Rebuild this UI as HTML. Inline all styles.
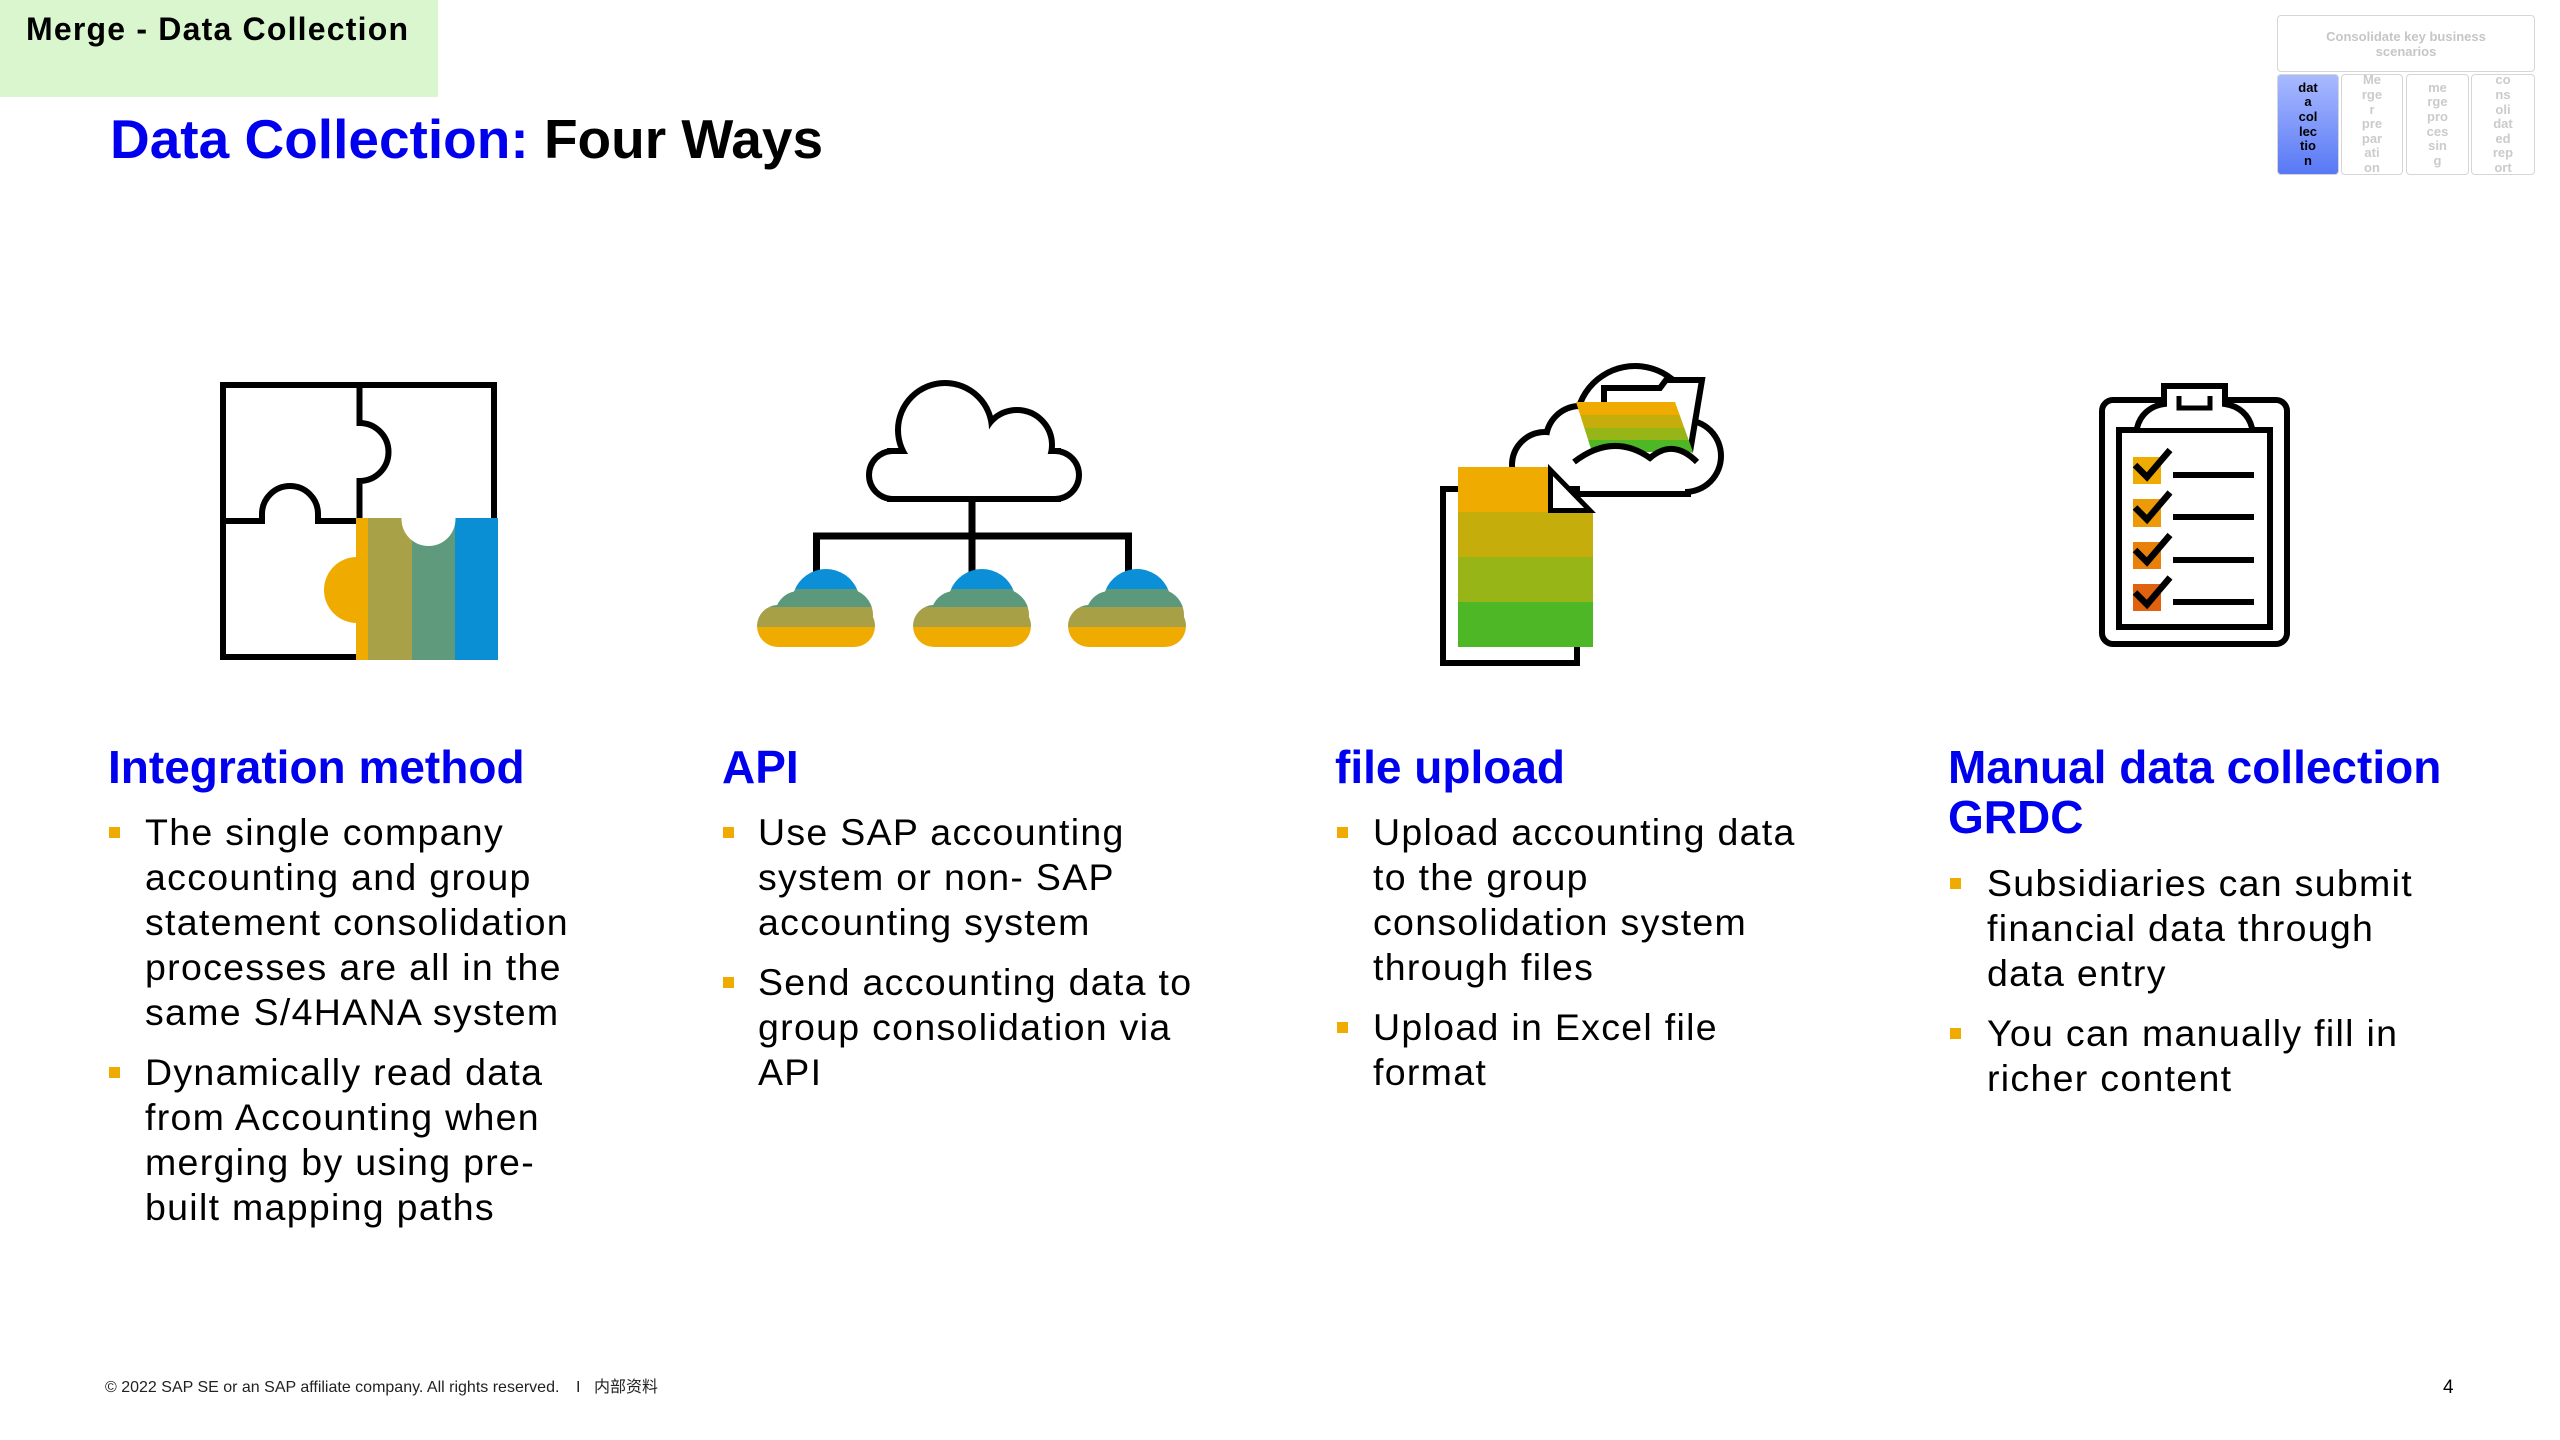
<!DOCTYPE html>
<html>
<head>
<meta charset="utf-8">
<style>
  html,body{margin:0;padding:0;}
  body{width:2560px;height:1440px;position:relative;background:#fff;overflow:hidden;font-family:"Liberation Sans","Noto Sans CJK SC",sans-serif;}
  .abs{position:absolute;white-space:nowrap;}
  .h{font-size:46px;font-weight:bold;color:#0000ee;line-height:50px;}
  .p{font-size:37.5px;line-height:45px;color:#000;letter-spacing:1.3px;}
  .b{position:absolute;width:11px;height:11px;background:#f0ab00;}
  .cell{position:absolute;top:74px;height:101px;border:1.5px solid #d6d6d6;border-radius:4px;box-sizing:border-box;display:flex;align-items:center;justify-content:center;text-align:center;font-size:13px;line-height:14.6px;font-weight:bold;color:#cbcbcb;}
</style>
</head>
<body>

<!-- top-left tag -->
<div class="abs" style="left:0;top:0;width:438px;height:97px;background:#d9f6cf;"></div>
<div class="abs" style="left:26px;top:11px;font-size:32px;line-height:36px;font-weight:bold;color:#000;letter-spacing:1.2px;">Merge - Data Collection</div>

<!-- title -->
<div class="abs" style="left:110px;top:109px;font-size:55px;line-height:60px;font-weight:bold;"><span style="color:#0000ee;">Data Collection:</span> <span style="color:#000;">Four Ways</span></div>

<!-- top right nav -->
<div class="abs" style="left:2277px;top:15px;width:258px;height:57px;border:1.5px solid #d6d6d6;border-radius:4px;box-sizing:border-box;background:#fff;display:flex;align-items:center;justify-content:center;text-align:center;font-size:13px;line-height:15px;font-weight:bold;color:#c6c6c6;white-space:normal;">Consolidate key business<br>scenarios</div>
<div class="cell" style="left:2277px;width:62px;background:linear-gradient(#a9baff,#5878f5);color:#000;">dat<br>a<br>col<br>lec<br>tio<br>n</div>
<div class="cell" style="left:2341px;width:62px;background:#fff;">Me<br>rge<br>r<br>pre<br>par<br>ati<br>on</div>
<div class="cell" style="left:2406px;width:63px;background:#fff;">me<br>rge<br>pro<br>ces<br>sin<br>g</div>
<div class="cell" style="left:2471px;width:64px;background:#fff;">co<br>ns<br>oli<br>dat<br>ed<br>rep<br>ort</div>

<!-- icons -->
<svg class="abs" style="left:0;top:0;" width="2560" height="1440" viewBox="0 0 2560 1440">
  <defs>
    <clipPath id="sc">
      <rect x="0" y="36" width="118" height="42" rx="21"/>
      <circle cx="42" cy="46" r="24"/>
      <circle cx="90" cy="46" r="26"/>
      <circle cx="69" cy="34" r="34"/>
    </clipPath>
    <clipPath id="doc"><polygon points="1458,467 1548,467 1593,512 1593,647 1458,647"/></clipPath>
    <clipPath id="paper"><polygon points="1576,402 1675,402 1693,452 1592,452"/></clipPath>
  </defs>

  <!-- Puzzle -->
  <g fill="none" stroke="#000" stroke-width="6">
    <rect x="223" y="385" width="271" height="272"/>
    <path d="M359.5,385 V423 A29,29 0 0 1 359.5,481 V521"/>
    <path d="M223,521 H262 V514 A28,28 0 0 1 318,514 V521 H362"/>
  </g>
  <path d="M357,557 A33,33 0 0 0 357,623 Z" fill="#f0ab00"/>
  <rect x="356" y="518" width="12" height="142" fill="#f0ab00"/>
  <rect x="368" y="518" width="44" height="142" fill="#a9a147"/>
  <rect x="412" y="518" width="43" height="142" fill="#5f9a7d"/>
  <rect x="455" y="518" width="43" height="142" fill="#0a8fd4"/>
  <circle cx="428.5" cy="519" r="27" fill="#fff"/>

  <!-- API big cloud -->
  <g fill="#000" stroke="#000" stroke-width="12">
    <circle cx="893" cy="475" r="21"/>
    <circle cx="1055" cy="475" r="21"/>
    <rect x="893" y="454" width="162" height="42"/>
    <circle cx="945" cy="430" r="44"/>
    <circle cx="1017" cy="445" r="32"/>
  </g>
  <g fill="#fff">
    <circle cx="893" cy="475" r="21"/>
    <circle cx="1055" cy="475" r="21"/>
    <rect x="893" y="454" width="162" height="42"/>
    <circle cx="945" cy="430" r="44"/>
    <circle cx="1017" cy="445" r="32"/>
    <polygon points="893,475 945,430 1017,445 1055,475 1055,490 893,490"/>
  </g>
  <g fill="#000">
    <rect x="968.5" y="500" width="7" height="40"/>
    <rect x="813" y="532.5" width="319" height="7"/>
    <rect x="813" y="533" width="7" height="44"/>
    <rect x="968.5" y="533" width="7" height="44"/>
    <rect x="1125" y="533" width="7" height="44"/>
  </g>
  <g transform="translate(757,569)" clip-path="url(#sc)">
    <rect x="0" y="0" width="118" height="20" fill="#0b8fd6"/>
    <rect x="0" y="20" width="118" height="18" fill="#5c997c"/>
    <rect x="0" y="38" width="118" height="20" fill="#a7a047"/>
    <rect x="0" y="58" width="118" height="20" fill="#f0ab00"/>
  </g>
  <g transform="translate(913,569)" clip-path="url(#sc)">
    <rect x="0" y="0" width="118" height="20" fill="#0b8fd6"/>
    <rect x="0" y="20" width="118" height="18" fill="#5c997c"/>
    <rect x="0" y="38" width="118" height="20" fill="#a7a047"/>
    <rect x="0" y="58" width="118" height="20" fill="#f0ab00"/>
  </g>
  <g transform="translate(1068,569)" clip-path="url(#sc)">
    <rect x="0" y="0" width="118" height="20" fill="#0b8fd6"/>
    <rect x="0" y="20" width="118" height="18" fill="#5c997c"/>
    <rect x="0" y="38" width="118" height="20" fill="#a7a047"/>
    <rect x="0" y="58" width="118" height="20" fill="#f0ab00"/>
  </g>

  <!-- File upload -->
  <g fill="#000" stroke="#000" stroke-width="12">
    <circle cx="1545" cy="465" r="30"/>
    <circle cx="1580" cy="440" r="31"/>
    <circle cx="1635" cy="425" r="56"/>
    <circle cx="1685" cy="456" r="33"/>
    <rect x="1545" y="456" width="140" height="35"/>
  </g>
  <g fill="#fff">
    <circle cx="1545" cy="465" r="30"/>
    <circle cx="1580" cy="440" r="31"/>
    <circle cx="1635" cy="425" r="56"/>
    <circle cx="1685" cy="456" r="33"/>
    <rect x="1545" y="456" width="140" height="35"/>
    <polygon points="1545,465 1580,440 1635,425 1685,456 1685,485 1545,485"/>
  </g>
  <path d="M1604,452 V388 H1660 L1666,380 H1702 L1690,452" fill="#fff" stroke="#000" stroke-width="6"/>
  <g clip-path="url(#paper)">
    <rect x="1570" y="402" width="130" height="13" fill="#f0ab00"/>
    <rect x="1570" y="415" width="130" height="13" fill="#c5ad0c"/>
    <rect x="1570" y="428" width="130" height="12" fill="#97b516"/>
    <rect x="1570" y="440" width="130" height="12" fill="#4db726"/>
  </g>
  <path d="M1572,462 Q1613,432 1650,458 Q1673,438 1699,462 L1699,472 L1572,472 Z" fill="#fff"/>
  <path d="M1574,462 Q1613,432 1650,458 Q1673,438 1697,462" fill="none" stroke="#000" stroke-width="6"/>
  <rect x="1443" y="489" width="134" height="174" fill="#fff" stroke="#000" stroke-width="6"/>
  <g clip-path="url(#doc)">
    <rect x="1455" y="467" width="140" height="45" fill="#f0ab00"/>
    <rect x="1455" y="512" width="140" height="45" fill="#c5ad0c"/>
    <rect x="1455" y="557" width="140" height="45" fill="#97b516"/>
    <rect x="1455" y="602" width="140" height="45" fill="#4db726"/>
  </g>
  <polygon points="1550.5,470 1550.5,510.5 1590,510.5" fill="#fff" stroke="#000" stroke-width="5" stroke-linejoin="miter"/>

  <!-- Clipboard -->
  <rect x="2102" y="400" width="185" height="244" rx="11" fill="#fff" stroke="#000" stroke-width="6"/>
  <rect x="2119" y="430" width="151" height="197" fill="#fff" stroke="#000" stroke-width="6"/>
  <path d="M2137,428 C2140,415 2150,406 2164,404 V386 H2225 V404 C2239,406 2249,415 2252,428" fill="#fff" stroke="#000" stroke-width="6"/>
  <path d="M2179,396 V408 H2210 V396" fill="none" stroke="#000" stroke-width="5"/>
  <rect x="2133" y="457" width="28" height="27" fill="#f0ab00"/>
  <rect x="2133" y="499" width="28" height="28" fill="#ec990a"/>
  <rect x="2133" y="542" width="28" height="27" fill="#e8800a"/>
  <rect x="2133" y="584" width="28" height="27" fill="#e0620f"/>
  <g fill="none" stroke="#000" stroke-width="6.5">
    <polyline points="2135,465 2147,477 2170,450"/>
    <polyline points="2135,507.5 2147,519.5 2170,492.5"/>
    <polyline points="2135,550 2147,562 2170,535"/>
    <polyline points="2135,592.5 2147,604.5 2170,577.5"/>
  </g>
  <g fill="#000">
    <rect x="2173" y="472" width="81" height="6"/>
    <rect x="2173" y="514" width="81" height="6"/>
    <rect x="2173" y="557" width="81" height="6"/>
    <rect x="2173" y="599" width="81" height="6"/>
  </g>
</svg>

<!-- Column 1 -->
<div class="abs h" style="left:108px;top:742px;">Integration method</div>
<div class="b" style="left:109px;top:827px;"></div>
<div class="abs p" style="left:145px;top:809.5px;">The single company<br>accounting and group<br>statement consolidation<br>processes are all in the<br>same S/4HANA system</div>
<div class="b" style="left:109px;top:1067px;"></div>
<div class="abs p" style="left:145px;top:1049.5px;">Dynamically read data<br>from Accounting when<br>merging by using pre-<br>built mapping paths</div>

<!-- Column 2 -->
<div class="abs h" style="left:722px;top:742px;">API</div>
<div class="b" style="left:723px;top:827px;"></div>
<div class="abs p" style="left:758px;top:809.5px;">Use SAP accounting<br>system or non- SAP<br>accounting system</div>
<div class="b" style="left:723px;top:977px;"></div>
<div class="abs p" style="left:758px;top:959.5px;">Send accounting data to<br>group consolidation via<br>API</div>

<!-- Column 3 -->
<div class="abs h" style="left:1335px;top:742px;">file upload</div>
<div class="b" style="left:1337px;top:827px;"></div>
<div class="abs p" style="left:1373px;top:809.5px;">Upload accounting data<br>to the group<br>consolidation system<br>through files</div>
<div class="b" style="left:1337px;top:1022px;"></div>
<div class="abs p" style="left:1373px;top:1004.5px;">Upload in Excel file<br>format</div>

<!-- Column 4 -->
<div class="abs h" style="left:1948px;top:742px;">Manual data collection<br>GRDC</div>
<div class="b" style="left:1950px;top:878px;"></div>
<div class="abs p" style="left:1987px;top:860.5px;">Subsidiaries can submit<br>financial data through<br>data entry</div>
<div class="b" style="left:1950px;top:1028px;"></div>
<div class="abs p" style="left:1987px;top:1010.5px;">You can manually fill in<br>richer content</div>

<!-- Footer -->
<div class="abs" style="left:105px;top:1377.5px;font-size:16px;line-height:20px;color:#222;">© 2022 SAP SE or an SAP affiliate company. All rights reserved.</div>
<div class="abs" style="left:576px;top:1377.5px;font-size:16px;line-height:20px;color:#222;">I</div>
<div class="abs" style="left:594px;top:1377.5px;font-size:16px;line-height:20px;color:#222;font-family:'Liberation Sans','Noto Sans CJK SC',sans-serif;">内部资料</div>
<div class="abs" style="left:2443px;top:1377px;font-size:19px;line-height:22px;color:#000;">4</div>

</body>
</html>
